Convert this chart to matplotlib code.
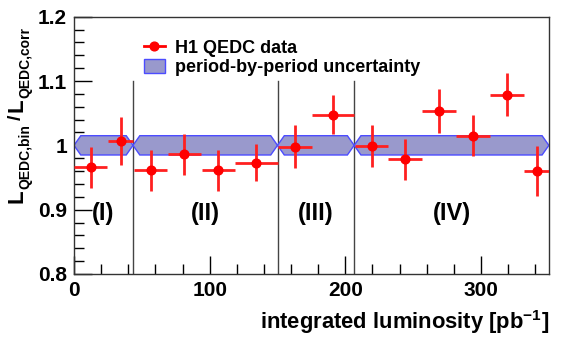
import matplotlib as mpl
mpl.use('Agg')
import matplotlib.pyplot as plt
from matplotlib.ticker import MultipleLocator
from matplotlib.patches import Patch
from matplotlib.lines import Line2D

plt.rcParams['font.family'] = ['Liberation Sans', 'DejaVu Sans']
plt.rcParams['font.weight'] = 'bold'
plt.rcParams['mathtext.fontset'] = 'custom'
plt.rcParams['mathtext.rm'] = 'Liberation Sans:bold'
plt.rcParams['mathtext.bf'] = 'Liberation Sans:bold'
plt.rcParams['mathtext.default'] = 'bf'

# H1 QEDC luminosity ratio per bin
lumi = [12.3, 34.5, 56.6, 81.4, 106.5, 134.5, 162.9, 190.9, 219.4, 244.0, 269.1, 294.2, 319.1, 341.0]
lumi_err = [12.3, 9.2, 12.3, 12.3, 12.3, 15.5, 12.5, 15.7, 12.0, 12.3, 12.4, 12.4, 12.5, 9.6]
ratio = [0.966, 1.0065, 0.961, 0.986, 0.961, 0.973, 0.998, 1.0475, 0.999, 0.978, 1.053, 1.015, 1.079, 0.960]
ratio_err = [0.032, 0.037, 0.032, 0.032, 0.032, 0.029, 0.033, 0.030, 0.033, 0.032, 0.034, 0.032, 0.034, 0.039]

# running periods
period_edges = [0, 43.5, 150, 206.5, 350]
period_names = ['(I)', '(II)', '(III)', '(IV)']
period_unc = 0.015

fig = plt.figure(figsize=(5.67, 3.44), dpi=100)
ax = fig.add_axes([0.1305, 0.2035, 0.8375, 0.748])

# hexagonal uncertainty band for each period
tip = 5.0
for lo, hi in zip(period_edges[:-1], period_edges[1:]):
    xs = [lo, lo + tip, hi - tip, hi, hi - tip, lo + tip]
    ys = [1, 1 + period_unc, 1 + period_unc, 1, 1 - period_unc, 1 - period_unc]
    ax.fill(xs, ys, facecolor='#9999cc', edgecolor='#4c4cff', lw=1.0, zorder=2)

for edge in period_edges[1:-1]:
    ax.plot([edge, edge], [0.8, 1.1], color='#444444', lw=1.0, zorder=1)

for lo, hi, name in zip(period_edges[:-1], period_edges[1:], period_names):
    ax.text((lo + hi) / 2, 0.894, name, ha='center', va='center', fontsize=17, fontweight='bold')

ax.errorbar(lumi, ratio, xerr=lumi_err, yerr=ratio_err, fmt='o', color='#ff0000',
            ecolor='#ff2020', elinewidth=2.0, capsize=0, markersize=6.3, zorder=3)

ax.set_xlim(0, 350)
ax.set_ylim(0.8, 1.2)
ax.xaxis.set_major_locator(MultipleLocator(100))
ax.xaxis.set_minor_locator(MultipleLocator(20))
ax.yaxis.set_minor_locator(MultipleLocator(0.02))
ax.set_yticks([0.8, 0.9, 1.0, 1.1, 1.2])
ax.set_yticklabels(['0.8', '0.9', '1', '1.1', '1.2'])
ax.tick_params(which='both', direction='in', top=False, right=False, labelsize=15, width=1)
ax.tick_params(which='major', length=13, pad=5)
ax.tick_params(which='minor', length=7)
for lab in ax.get_xticklabels() + ax.get_yticklabels():
    lab.set_fontweight('bold')
for sp in ax.spines.values():
    sp.set_color('#333333')
    sp.set_linewidth(1.0)

fig.text(0.968, 0.064, r'integrated luminosity [pb$^{\mathbf{-1}}$]', ha='right', va='center',
         fontsize=15.8, fontweight='bold')

# y title built piece by piece so the subscripts stay bold
ylab_pieces = [('L', 16, 22, 0), ('QEDC,bin', 10, 29, 0), ('/', 14, 21, 4),
               ('L', 16, 22, 3), ('QEDC,corr', 10, 29, 0)]
prev = None
for s, size, base, gap in ylab_pieces:
    kw = dict(rotation=90, rotation_mode='anchor', ha='left', va='baseline',
              fontsize=size, fontweight='bold', annotation_clip=False)
    if prev is None:
        prev = ax.annotate(s, xy=(base, 344 - 203), xycoords='figure pixels', **kw)
    else:
        prev = ax.annotate(s, xy=(base, 1.0), xycoords=('figure pixels', prev),
                           xytext=(0, gap), textcoords='offset pixels', **kw)

handles = [Line2D([], [], color='#ff0000', marker='o', markersize=6.3, lw=2),
           Patch(facecolor='#9999cc', edgecolor='#4c4cff')]
ax.legend(handles, ['H1 QEDC data', 'period-by-period uncertainty'], loc='upper left',
          bbox_to_anchor=(0.113, 0.975), frameon=False, handlelength=1.15, handleheight=0.83,
          handletextpad=0.55, labelspacing=0.1, prop={'weight': 'bold', 'size': 13})

fig.savefig('out.png', dpi=100)
